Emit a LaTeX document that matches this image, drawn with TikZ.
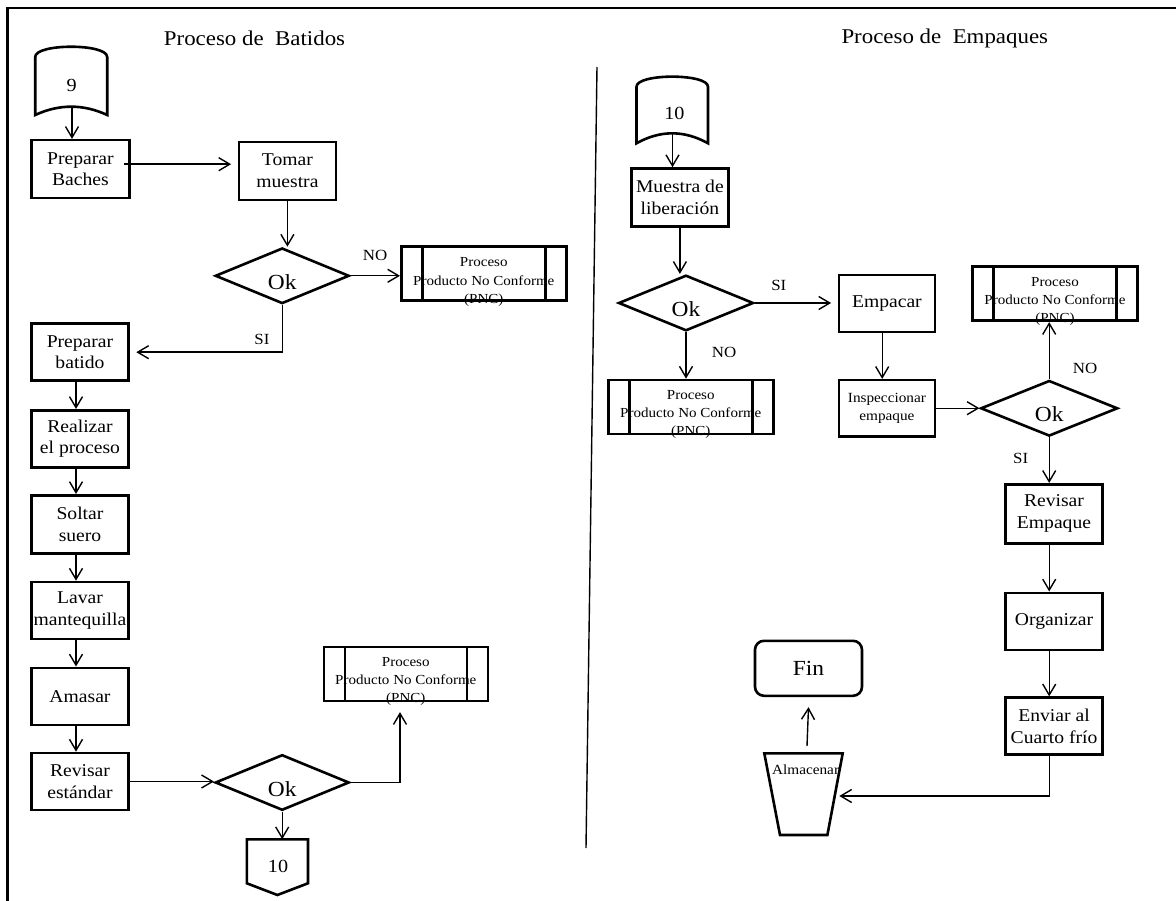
\documentclass[tikz,border=0pt]{standalone}
\usepackage{fontspec}
\setmainfont[FakeStretch=1.09]{Liberation Serif}
\usetikzlibrary{arrows.meta,shapes.geometric,calc}
\tikzset{
 box/.style={draw, line width=2.6pt, rectangle, inner sep=0pt, align=center, font=\fontsize{18}{21.7}\selectfont},
 dec/.style={draw, diamond, line width=2.6pt, inner sep=0pt, font=\fontsize{21.5}{25}\selectfont, text height=27pt, text depth=0pt},
 pnc/.style={draw, line width=2.6pt, rectangle, inner sep=0pt,
   path picture={\draw[line width=2.6pt]
     ([xshift=21pt]path picture bounding box.north west) -- ([xshift=21pt]path picture bounding box.south west)
     ([xshift=-21pt]path picture bounding box.north east) -- ([xshift=-21pt]path picture bounding box.south east);}},
 pnctxt/.style={inner sep=0pt, align=center, font=\fontsize{13.8}{18.3}\selectfont},
 conn/.style={line width=1.4pt, -{Straight Barb[length=11pt,width=13pt]}},
 lbl/.style={inner sep=0pt, font=\fontsize{15.5}{18}\selectfont},
 ttl/.style={inner sep=0pt, font=\fontsize{21}{25}\selectfont},
 shp/.style={draw, line width=2.6pt, line join=miter},
 smalltxt/.style={inner sep=0pt, align=center, font=\fontsize{14}{18}\selectfont},
}
\begin{document}
\begin{tikzpicture}[x=1pt,y=-1pt]
\useasboundingbox (0,0) rectangle (1176,901);
% frame
\coordinate (fr1) at (1180,8);
\coordinate (fr2) at (7.7,8);
\coordinate (fr3) at (7.7,905);
\draw[line width=2.7pt] (fr1) -- (fr2) -- (fr3);
% separator
\coordinate (sepT) at (597,67);
\coordinate (sepB) at (586,848);
\draw[line width=1.4pt] (sepT) -- (sepB);
% titles
\node[ttl] (t1) at (254.5,38.3) {Proceso de\ \ Batidos};
\node[ttl] (t2) at (944.8,38.3) {Proceso de\ \ Empaques};

% ---------- left: Batidos ----------
\draw[shp] (35.2,57) .. controls (35.2,43.3) and (107.2,43.3) .. (107.2,57) -- (107.2,115)
  .. controls (83.2,103.9) and (59.2,103.9) .. (35.2,115) -- cycle;
\node[inner sep=0pt, font=\fontsize{18.5}{22}\selectfont] (c9) at (71.6,85) {9};
\coordinate (c9b) at (72,106.7);

\node[box, minimum width=98pt, minimum height=58pt] (pb) at (80.4,169.2) {Preparar\\Baches};
\node[box, minimum width=97pt, minimum height=58pt] (tm) at (287.4,171) {Tomar\\muestra};
\node[dec, minimum width=134pt, minimum height=53pt] (d1) at (282.2,275.8) {Ok};
\node[pnc, minimum width=165pt, minimum height=54pt] (p1) at (483.8,273.5) {};
\node[pnctxt] (p1t) at (483.8,282) {Proceso\\Producto No Conforme\\(PNC)};
\node[box, minimum width=97pt, minimum height=57pt] (pbt) at (80,352.2) {Preparar\\batido};
\node[box, minimum width=97pt, minimum height=57pt] (rp) at (80,438.8) {Realizar\\el proceso};
\node[box, minimum width=97pt, minimum height=58pt] (ss) at (80,524.3) {Soltar\\suero};
\node[box, minimum width=97pt, minimum height=57pt] (lm) at (80,610.5) {Lavar\\mantequilla};
\node[box, minimum width=97pt, minimum height=57pt] (am) at (80,696.3) {Amasar};
\node[box, minimum width=97pt, minimum height=57pt] (re) at (80,781.5) {Revisar\\estándar};
\node[dec, minimum width=134pt, minimum height=53pt] (d2) at (282.2,782.5) {Ok};
\node[pnc, minimum width=164pt, minimum height=54pt] (p2) at (405.8,673.8) {};
\node[pnctxt] (p2t) at (405.8,681.5) {Proceso\\Producto No Conforme\\(PNC)};
\draw[shp] (246.8,839.3) -- (308,839.3) -- (308,883.3) -- (277.4,895) -- (246.8,883.3) -- cycle;
\node[inner sep=0pt, font=\fontsize{18.5}{22}\selectfont] (o10t) at (278,866.5) {10};
\coordinate (o10) at (282.2,839.3);

\node[lbl] (no1) at (375,255) {NO};
\node[lbl] (si1) at (262,339) {SI};

\path ([xshift=-6.5pt,yshift=5pt]pb.east) coordinate (a1);
\draw[conn] (c9b) -- (c9b |- pb.north);
\draw[conn, shorten >=6.5pt] (a1) -- (a1 -| tm.west);
\draw[conn] (tm.south) -- (tm.south |- d1.north);
\draw[conn] (d1.east) -- (d1.east -| p1.west);
\draw[conn, shorten >=6.5pt] (d1.south) |- (pbt.east);
\draw[conn] ([xshift=-4pt]pbt.south) -- ([xshift=-4pt]rp.north);
\draw[conn] ([xshift=-4pt]rp.south) -- ([xshift=-4pt]ss.north);
\draw[conn] ([xshift=-4pt]ss.south) -- ([xshift=-4pt]lm.north);
\draw[conn] ([xshift=-4pt]lm.south) -- ([xshift=-4pt]am.north);
\draw[conn] ([xshift=-4pt]am.south) -- ([xshift=-4pt]re.north);
\draw[conn] (re.east) -- (re.east -| d2.west);
\draw[conn] (d2.east) -| ([xshift=-5.8pt,yshift=-10pt]p2.south);
\draw[conn] (d2.south) -- (o10);

% ---------- right: Empaques ----------
\draw[shp] (636.5,86.7) .. controls (636.5,73.3) and (708,73.3) .. (708,86.7) -- (708,143.3)
  .. controls (684.2,130) and (660.3,130) .. (636.5,143.3) -- cycle;
\node[inner sep=0pt, font=\fontsize{18.5}{22}\selectfont] (c10) at (674.4,113.3) {10};
\coordinate (c10b) at (672.5,133.3);

\node[box, minimum width=97pt, minimum height=58pt] (ml) at (679.9,197.5) {Muestra de\\liberación};
\node[dec, minimum width=135pt, minimum height=52pt] (d3) at (686,303) {Ok};
\node[box, minimum width=96pt, minimum height=57pt] (emp) at (886.9,303.7) {Empacar};
\node[pnc, minimum width=165pt, minimum height=54pt] (p3) at (690.8,407) {};
\node[pnctxt] (p3t) at (690.8,414.5) {Proceso\\Producto No Conforme\\(PNC)};
\node[box, minimum width=96pt, minimum height=56pt, font=\fontsize{14}{18}\selectfont] (ins) at (886.9,408.2) {Inspeccionar\\empaque};
\node[dec, minimum width=137pt, minimum height=52pt] (d4) at (1049.2,408.3) {Ok};
\node[pnc, minimum width=165pt, minimum height=54pt] (p4) at (1055,293.8) {};
\node[pnctxt] (p4t) at (1055,301.3) {Proceso\\Producto No Conforme\\(PNC)};
\node[box, minimum width=97pt, minimum height=59pt] (rem) at (1054,513.7) {Revisar\\Empaque};
\node[box, minimum width=97pt, minimum height=57pt] (org) at (1054,621.3) {Organizar};
\node[box, minimum width=97pt, minimum height=57pt] (env) at (1054,726.2) {Enviar al\\Cuarto frío};
\node[box, rounded corners=9pt, minimum width=107pt, minimum height=55pt, font=\fontsize{21.5}{25}\selectfont] (fin) at (808.5,668.3) {Fin};
\draw[shp] (764.3,753.3) -- (842.7,753.3) -- (827.4,835) -- (780,835) -- cycle;
\node[smalltxt] (alm) at (805.6,769.3) {Almacenar};
\coordinate (almR) at (839.3,796);
\coordinate (almT) at (807,746);

\node[lbl] (si2) at (778.8,285) {SI};
\node[lbl] (no2) at (724.1,352.3) {NO};
\node[lbl] (no3) at (1085,368.3) {NO};
\node[lbl] (si3) at (1020.7,458.3) {SI};

\draw[conn] (c10b) -- (c10b |- ml.north);
\draw[conn] (ml.south) -- (ml.south |- d3.north);
\draw[conn, shorten >=6.5pt] (d3.east) -- (d3.east -| emp.west);
\draw[conn] (d3.south) -- (d3.south |- p3.north);
\draw[conn] ([xshift=-4.7pt]emp.south) -- ([xshift=-4.7pt]ins.north);
\draw[conn] (ins.east) -- (ins.east -| d4.west);
\draw[conn] (d4.north) -- (d4.north |- p4.south);
\draw[conn] (d4.south) -- (d4.south |- rem.north);
\draw[conn] (rem.south -| d4.south) -- (org.north -| d4.south);
\draw[conn] (org.south -| d4.south) -- (env.north -| d4.south);
\draw[conn] (env.south -| d4.south) |- (almR);
\draw[conn] (almT) -- ([yshift=-10pt]fin.south);
\end{tikzpicture}
\end{document}
